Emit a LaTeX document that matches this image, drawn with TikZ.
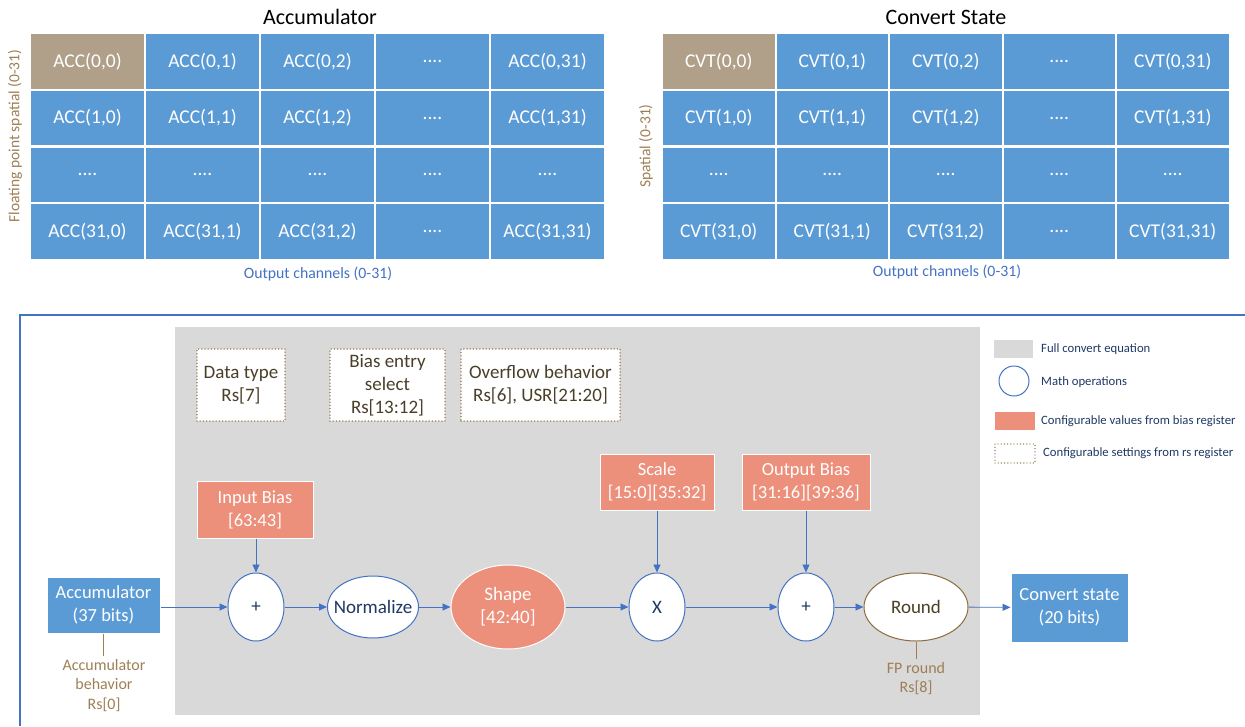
\documentclass[tikz,border=0pt]{standalone}
\usepackage{fontspec}
\setmainfont{Carlito}
\usetikzlibrary{shapes.geometric,arrows.meta}
\definecolor{cellblue}{HTML}{5B9BD5}
\definecolor{celltan}{HTML}{B0A08A}
\definecolor{salmon}{HTML}{EC8F7B}
\definecolor{graybg}{HTML}{D9D9D9}
\definecolor{lineblue}{HTML}{4472C4}
\definecolor{navy}{HTML}{1F3864}
\definecolor{labbrown}{HTML}{9E7F55}
\definecolor{dotbrown}{HTML}{8A6D3B}
\definecolor{darktxt}{HTML}{4A3F28}
\tikzset{
  fs/.style 2 args={font=\fontsize{#1}{#2}\selectfont},
  cellL/.style={rectangle, fill=cellblue, draw=white, line width=2pt, minimum width=115pt, minimum height=56.75pt, inner sep=0pt, text=white, fs={19.5}{22}},
  cellR/.style={cellL, minimum width=113.5pt},
  firstcell/.style={fill=celltan},
  dotbox/.style={rectangle, draw=dotbrown, fill=white, line width=1.5pt, dash pattern=on 0pt off 3.2pt, line cap=round, text=darktxt, fs={19}{23}, align=center, inner sep=0pt},
  valbox/.style={rectangle, fill=salmon, draw=white, line width=1pt, text=white, fs={18.5}{23}, align=center, inner sep=0pt},
  blkbox/.style={rectangle, fill=cellblue, draw=white, line width=1pt, text=white, fs={18.5}{23}, align=center, inner sep=0pt},
  mathop/.style={ellipse, draw=lineblue, fill=white, line width=1pt, text=navy, fs={19}{23}, inner sep=0pt},
  conn/.style={draw=lineblue, line width=0.9pt, -{Triangle[length=8pt,width=7pt]}},
  tick/.style={draw=labbrown, line width=0.8pt},
  legtxt/.style={text=navy, fs={12.7}{15}, anchor=west, inner sep=0pt},
}
\newcommand{\gcell}[5]{\node[#1] (#2) at (#3,#4) {#5};}
\begin{document}
\begin{tikzpicture}[x=1pt,y=-1pt]
\useasboundingbox (0,0) rectangle (1245,726);
% ---------- Left grid ----------
\node[fs={22}{26}] (acctitle) at (320,17) {Accumulator};
\gcell{cellL,firstcell}{a00}{87.5}{61.4}{ACC(0,0)}
\gcell{cellL}{a01}{202.5}{61.4}{ACC(0,1)}
\gcell{cellL}{a02}{317.5}{61.4}{ACC(0,2)}
\gcell{cellL}{a03}{432.5}{61.4}{....}
\gcell{cellL}{a04}{547.5}{61.4}{ACC(0,31)}
\gcell{cellL}{a10}{87.5}{118.1}{ACC(1,0)}
\gcell{cellL}{a11}{202.5}{118.1}{ACC(1,1)}
\gcell{cellL}{a12}{317.5}{118.1}{ACC(1,2)}
\gcell{cellL}{a13}{432.5}{118.1}{....}
\gcell{cellL}{a14}{547.5}{118.1}{ACC(1,31)}
\gcell{cellL}{a20}{87.5}{174.9}{....}
\gcell{cellL}{a21}{202.5}{174.9}{....}
\gcell{cellL}{a22}{317.5}{174.9}{....}
\gcell{cellL}{a23}{432.5}{174.9}{....}
\gcell{cellL}{a24}{547.5}{174.9}{....}
\gcell{cellL}{a30}{87.5}{231.6}{ACC(31,0)}
\gcell{cellL}{a31}{202.5}{231.6}{ACC(31,1)}
\gcell{cellL}{a32}{317.5}{231.6}{ACC(31,2)}
\gcell{cellL}{a33}{432.5}{231.6}{....}
\gcell{cellL}{a34}{547.5}{231.6}{ACC(31,31)}
\node[fs={15.8}{19}, text=lineblue] (accout) at (318,274) {Output channels (0-31)};
\node[fs={15.5}{19}, text=labbrown, rotate=90] (accsp) at (15,136) {Floating point spatial (0-31)};
% ---------- Right grid ----------
\node[fs={22}{26}] (cvttitle) at (946,17) {Convert State};
\gcell{cellR,firstcell}{c00}{718.75}{61.4}{CVT(0,0)}
\gcell{cellR}{c01}{832.25}{61.4}{CVT(0,1)}
\gcell{cellR}{c02}{945.75}{61.4}{CVT(0,2)}
\gcell{cellR}{c03}{1059.25}{61.4}{....}
\gcell{cellR}{c04}{1172.75}{61.4}{CVT(0,31)}
\gcell{cellR}{c10}{718.75}{118.1}{CVT(1,0)}
\gcell{cellR}{c11}{832.25}{118.1}{CVT(1,1)}
\gcell{cellR}{c12}{945.75}{118.1}{CVT(1,2)}
\gcell{cellR}{c13}{1059.25}{118.1}{....}
\gcell{cellR}{c14}{1172.75}{118.1}{CVT(1,31)}
\gcell{cellR}{c20}{718.75}{174.9}{....}
\gcell{cellR}{c21}{832.25}{174.9}{....}
\gcell{cellR}{c22}{945.75}{174.9}{....}
\gcell{cellR}{c23}{1059.25}{174.9}{....}
\gcell{cellR}{c24}{1172.75}{174.9}{....}
\gcell{cellR}{c30}{718.75}{231.6}{CVT(31,0)}
\gcell{cellR}{c31}{832.25}{231.6}{CVT(31,1)}
\gcell{cellR}{c32}{945.75}{231.6}{CVT(31,2)}
\gcell{cellR}{c33}{1059.25}{231.6}{....}
\gcell{cellR}{c34}{1172.75}{231.6}{CVT(31,31)}
\node[fs={15.8}{19}, text=lineblue] (cvtout) at (947,272) {Output channels (0-31)};
\node[fs={15.5}{19}, text=labbrown, rotate=90] (cvtsp) at (646,146) {Spatial (0-31)};
% ---------- Bottom frame ----------
\draw[lineblue, line width=1.2pt] (1245,315) -- (20,315) -- (20,726);
\fill[graybg] (175,327) rectangle (980,715);
% settings boxes
\node[dotbox, minimum width=88pt, minimum height=72pt] (dtype) at (241,385) {Data type\\Rs[7]};
\node[dotbox, minimum width=115pt, minimum height=72pt] (bsel) at (387.5,385) {Bias entry\\select\\Rs[13:12]};
\node[dotbox, minimum width=159pt, minimum height=72pt] (ovf) at (540.5,385) {Overflow behavior\\Rs[6], USR[21:20]};
% value boxes
\node[valbox, minimum width=116pt, minimum height=57pt] (ibias) at (255,509.5) {Input Bias\\{}[63:43]};
\node[valbox, minimum width=114pt, minimum height=56pt] (scale) at (657,482) {Scale\\{}[15:0][35:32]};
\node[valbox, minimum width=128pt, minimum height=56pt] (obias) at (806,482) {Output Bias\\{}[31:16][39:36]};
% main chain
\node[blkbox, minimum width=113pt, minimum height=56pt] (acc) at (103.5,605) {Accumulator\\(37 bits)};
\node[mathop, minimum width=56pt, minimum height=68pt] (plus1) at (256,607) {+};
\node[mathop, inner xsep=-8pt, minimum width=91pt, minimum height=62pt] (norm) at (373,607) {Normalize};
\node[mathop, fill=salmon, draw=white, text=white, align=center, minimum width=114pt, minimum height=84pt] (shape) at (508,607) {Shape\\{}[42:40]};
\node[mathop, minimum width=56pt, minimum height=68pt] (mul) at (657,607) {X};
\node[mathop, minimum width=56pt, minimum height=68pt] (plus2) at (806,607) {+};
\node[mathop, draw=dotbrown, text=darktxt, minimum width=104pt, minimum height=68pt] (round) at (916,607) {Round};
\node[blkbox, minimum width=117pt, minimum height=69pt] (cvt) at (1069.5,607.5) {Convert state\\(20 bits)};
% connectors
\draw[conn] (acc.east |- plus1.west) -- (plus1.west);
\draw[conn] (ibias.south -| plus1.north) -- (plus1.north);
\draw[conn] (plus1) -- (norm);
\draw[conn] (norm) -- (shape);
\draw[conn] (shape) -- (mul);
\draw[conn] (scale) -- (mul);
\draw[conn] (mul) -- (plus2);
\draw[conn] (obias) -- (plus2);
\draw[conn] (plus2) -- (round);
\draw[conn] (round) -- (cvt);
% behaviour notes
\node[text=labbrown, fs={16}{19.5}, align=center] (accbeh) at (104,685.5) {Accumulator\\behavior\\Rs[0]};
\draw[tick] (acc.south) -- (acc.south |- accbeh.north);
\node[text=labbrown, fs={16}{19}, align=center] (fpr) at (916,678.5) {FP round\\Rs[8]};
\draw[tick] (round.south) -- (fpr.north);
% legend
\node[rectangle, fill=graybg, minimum width=39pt, minimum height=18pt, inner sep=0pt] (lg1) at (1013.5,349) {};
\node[legtxt] (lt1) at (1041,349) {Full convert equation};
\node[circle, draw=lineblue, line width=1pt, minimum size=30pt, inner sep=0pt] (lg2) at (1014,381) {};
\node[legtxt] (lt2) at (1041,382) {Math operations};
\node[rectangle, fill=salmon, minimum width=40pt, minimum height=18pt, inner sep=0pt] (lg3) at (1015,421) {};
\node[legtxt] (lt3) at (1041,421) {Configurable values from bias register};
\node[rectangle, draw=dotbrown, line width=1.4pt, dash pattern=on 0pt off 3.2pt, line cap=round, minimum width=40pt, minimum height=19pt, inner sep=0pt] (lg4) at (1015,453.5) {};
\node[legtxt] (lt4) at (1043,453) {Configurable settings from rs register};
\end{tikzpicture}
\end{document}
